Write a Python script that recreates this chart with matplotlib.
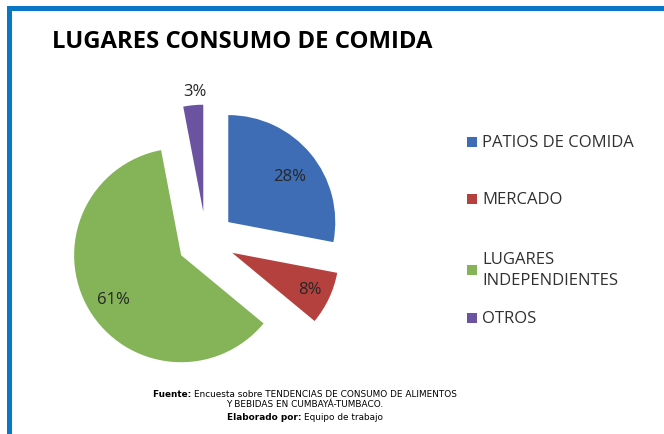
import matplotlib
matplotlib.use("Agg")
import matplotlib.pyplot as plt
from matplotlib.patches import Rectangle

# Data
categories = ["PATIOS DE COMIDA", "MERCADO", "LUGARES\nINDEPENDIENTES", "OTROS"]
values = [28, 8, 61, 3]
pct_labels = ["28%", "8%", "61%", "3%"]
colors = ["#3E6DB5", "#B5413F", "#84B457", "#6C53A2"]
title = "LUGARES CONSUMO DE COMIDA"
source_lines = [("Fuente:", "Encuesta sobre TENDENCIAS DE CONSUMO DE ALIMENTOS"),
                ("", "Y BEBIDAS EN CUMBAYÁ-TUMBACO."),
                ("Elaborado por:", "Equipo de trabajo")]

W, H = 664, 435
fig = plt.figure(figsize=(W / 100, H / 100), dpi=100)
fig.patch.set_facecolor("white")

# blue frame (top and left lines)
fig.add_artist(Rectangle((7 / W, 0), 5 / W, 1 - 7 / H, transform=fig.transFigure,
                         color="#0A77C4", lw=0))
fig.add_artist(Rectangle((7 / W, 1 - 12 / H), 1, 5 / H, transform=fig.transFigure,
                         color="#0A77C4", lw=0))

# pie axes: center (206, 241.5) px, radius ~107px, explode ~0.27
R = 107
ext = 150
cx, cy = 206, 241.5
ax = fig.add_axes([(cx - ext) / W, (H - cy - ext) / H, 2 * ext / W, 2 * ext / H])
wedges, texts = ax.pie(values, colors=colors, startangle=90, counterclock=False,
                       explode=[0.27] * 4, radius=1.0, frame=True,
                       wedgeprops=dict(linewidth=0))
ax.set_xlim(-ext / R, ext / R)
ax.set_ylim(-ext / R, ext / R)
ax.set_aspect("equal")
ax.axis("off")

# percentage labels (positions in px)
label_pos = [(290, 177), (310, 290), (113, 300), (195, 92)]
for (px, py), t in zip(label_pos, pct_labels):
    fig.text(px / W, 1 - py / H, t, ha="center", va="center", fontsize=12,
             color="#262626", family="Open Sans")

# title (fit width to ~377px)
tt = fig.text(242 / W, 1 - 42 / H, title, ha="center", va="center", fontsize=22,
              fontweight="bold", color="black",
              family=["Liberation Sans Narrow", "Open Sans"])
fig.canvas.draw()
rend = fig.canvas.get_renderer()
tw = tt.get_window_extent(rend).width
if tw > 395:
    tt.set_fontsize(22 * 380 / tw)

# legend
leg_y = [143, 200, 270.5, 319]
for yy, lab, col in zip(leg_y, categories, colors):
    fig.add_artist(Rectangle((467 / W, 1 - (yy + 5) / H), 10 / W, 10 / H,
                             transform=fig.transFigure, color=col, lw=0))
    fig.text(482 / W, 1 - yy / H, lab, ha="left", va="center", fontsize=12,
             color="#303030", family="Open Sans", linespacing=1.45)

# source
src_y = [395, 405, 418]
for yy, (b, r) in zip(src_y, source_lines):
    if b:
        tb = fig.text(0, 1 - yy / H, b + " ", fontsize=6.4, fontweight="bold",
                      family="DejaVu Sans", ha="left", va="center")
        tr = fig.text(0, 1 - yy / H, r, fontsize=6.4, family="DejaVu Sans",
                      ha="left", va="center")
        fig.canvas.draw()
        rend = fig.canvas.get_renderer()
        wb = tb.get_window_extent(rend).width
        wr = tr.get_window_extent(rend).width
        x0 = 305 - (wb + wr) / 2
        tb.set_x(x0 / W)
        tr.set_x((x0 + wb) / W)
    else:
        fig.text(305 / W, 1 - yy / H, r, fontsize=6.4, family="DejaVu Sans",
                 ha="center", va="center")

fig.savefig("out.png", dpi=100, facecolor="white")
